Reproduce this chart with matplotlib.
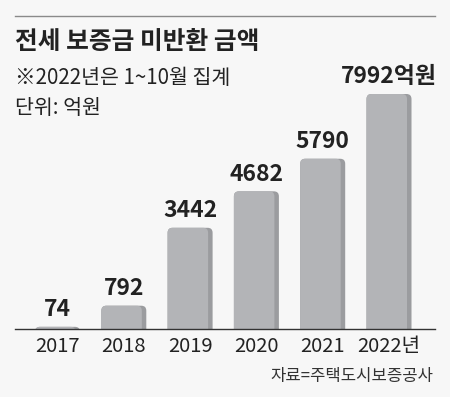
import matplotlib.pyplot as plt
from matplotlib.patches import FancyBboxPatch
from matplotlib.lines import Line2D

plt.rcParams['font.family'] = ['Noto Sans CJK KR', 'DejaVu Sans']

# ── data ──────────────────────────────────────────────────────────────────────

YEARS  = ["2017", "2018", "2019", "2020", "2021", "2022년"]
VALUES = [74, 792, 3442, 4682, 5790, 7992]
LABELS = ["74", "792", "3442", "4682", "5790", "7992억원"]

TITLE    = "전세 보증금 미반환 금액"
SUBTITLE = "※2022년은 1~10월 집계"
UNIT     = "단위: 억원"
SOURCE   = "자료=주택도시보증공사"

# ── layout (pixels) ───────────────────────────────────────────────────────────

W, H = 450, 397
BG = "#f7f7f7"
TXT = "#222222"
BAR_LIGHT = "#b3b4b7"
BAR_DARK = "#9b9c9f"

x0, x1 = 15, 435        # axes left / right
base   = 329            # baseline y (from top)
top    = 60             # axes top y (from top)
c0, step = 57.5, 66.3   # first bar centre, bar spacing
px_per_unit = 235 / 7992

fig = plt.figure(figsize=(W / 100, H / 100), dpi=100, facecolor=BG)
ax = fig.add_axes([x0 / W, (H - base) / H, (x1 - x0) / W, (base - top) / H])
ax.set_facecolor("none")

ax.set_xlim((x0 - c0) / step, (x1 - c0) / step)
ax.set_ylim(0, (base - top) / px_per_unit)

bars = ax.bar(range(len(VALUES)), VALUES, width=45 / step, color=BAR_LIGHT)

# rounded tops with a darker right edge
r_px = 5
r_x = r_px / step
aspect = (1 / px_per_unit) * step
stripe = 4.5 / step
for b in bars:
    b.set_visible(False)
    bx, bw, bh = b.get_x(), b.get_width(), b.get_height()
    ext = r_px / px_per_unit
    for xx, ww, col in [(bx, bw, BAR_DARK), (bx, bw - stripe, BAR_LIGHT)]:
        p = FancyBboxPatch((xx, -ext), ww, bh + ext,
                           boxstyle=f"round,pad=0,rounding_size={r_x}",
                           mutation_aspect=aspect, fc=col, ec="none")
        ax.add_patch(p)

for i, (v, lab) in enumerate(zip(VALUES, LABELS)):
    ax.annotate(lab, (i, v), xytext=(0, 4), textcoords="offset points",
                ha="center", va="bottom", fontsize=16.5, fontweight="bold",
                color=TXT)

for s in ["top", "left", "right"]:
    ax.spines[s].set_visible(False)
ax.spines["bottom"].set_color("#333333")
ax.spines["bottom"].set_linewidth(1)
ax.set_yticks([])
ax.set_xticks(range(len(YEARS)))
ax.set_xticklabels(YEARS, fontsize=14.5, color=TXT)
ax.tick_params(axis="x", length=0, pad=5)

# ── header / footer ───────────────────────────────────────────────────────────

fig.add_artist(Line2D([x0 / W, x1 / W], [1 - 16 / H] * 2, color="#8a8a8a", lw=1))
fig.text(x0 / W, 1 - 42 / H, TITLE, fontsize=17.8, fontweight="bold",
         color=TXT, va="center", ha="left")
fig.text(x0 / W, 1 - 78 / H, SUBTITLE, fontsize=14.8, color=TXT,
         va="center", ha="left")
fig.text(x0 / W, 1 - 108 / H, UNIT, fontsize=14.8, color=TXT,
         va="center", ha="left")
fig.text(433 / W, 1 - 376 / H, SOURCE, fontsize=12, color="#333333",
         va="center", ha="right")

fig.savefig("out.png", dpi=100, facecolor=BG)
